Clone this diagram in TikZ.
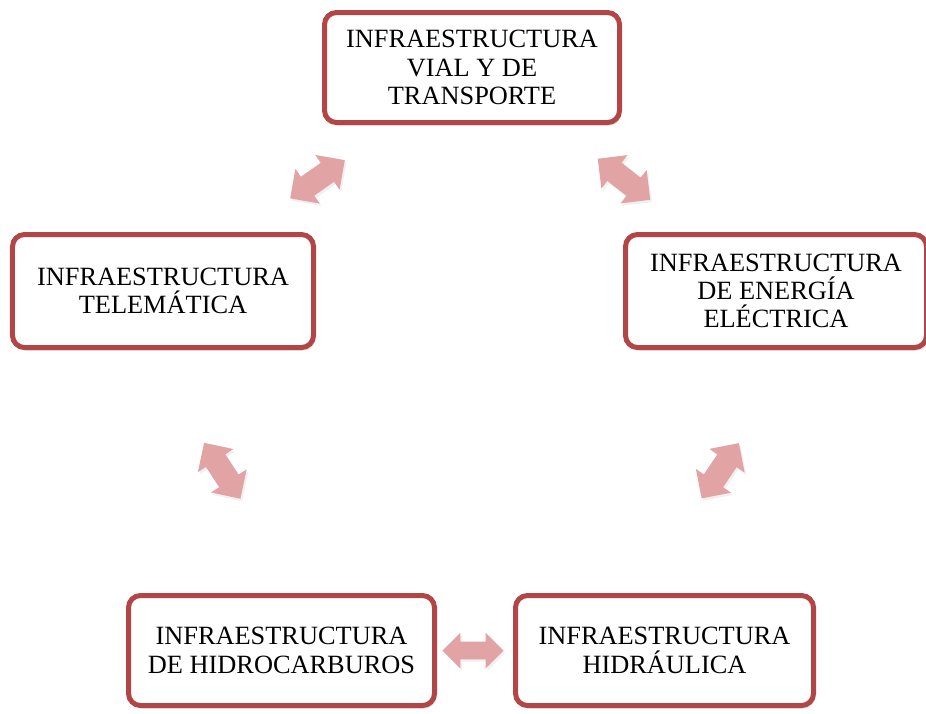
\documentclass[tikz,border=0pt]{standalone}
\usepackage{fontspec}
\setmainfont{Liberation Serif}
\usepackage{tikz}
\usetikzlibrary{calc,shapes.arrows,shadows}
\definecolor{BordeRojo}{RGB}{178,70,70}
\definecolor{FlechaRosa}{RGB}{225,163,164}

\begin{document}
\begin{tikzpicture}[x=0.3mm,y=-0.3mm,
  caja/.style={draw=BordeRojo,line width=1.5mm,rounded corners=3.6mm,
    fill=white,align=center,inner sep=0pt,
    font=\fontsize{22.5}{24.2}\selectfont,
    drop shadow={shadow xshift=0.6mm,shadow yshift=-0.9mm,opacity=0.25}},
  flecha/.style={double arrow,fill=FlechaRosa,draw=none,inner xsep=0pt,
    inner ysep=3.4mm,minimum height=20mm,double arrow head extend=2.9mm,
    drop shadow={shadow xshift=0.5mm,shadow yshift=-0.7mm,opacity=0.12}}]
  \useasboundingbox (0,0) rectangle (926,713);
  % cajas
  \node[caja,minimum width=88.5mm,minimum height=33mm] (vial) at (472,67.5)
    {INFRAESTRUCTURA\\VIAL Y DE\\TRANSPORTE};
  \node[caja,minimum width=90.3mm,minimum height=33.9mm] (tele) at (163,291)
    {INFRAESTRUCTURA\\TELEMÁTICA};
  \node[caja,minimum width=90.3mm,minimum height=33.9mm] (energia) at (776,291)
    {INFRAESTRUCTURA\\DE ENERGÍA\\ELÉCTRICA};
  \node[caja,minimum width=91.8mm,minimum height=33mm] (hidrocarb) at (281.5,650.5)
    {INFRAESTRUCTURA\\DE HIDROCARBUROS};
  \node[caja,minimum width=89.4mm,minimum height=33mm] (hidraulica) at (664.5,650.5)
    {INFRAESTRUCTURA\\HIDRÁULICA};
  % flechas dobles
  \node[flecha,rotate=35] (f-vt) at ($(vial)!0.5!(tele)$) {};
  \node[flecha,rotate=-38] (f-ve) at ($(vial)!0.5!(energia)$) {};
  \node[flecha,rotate=-57] (f-th) at ($(tele)!0.5!(hidrocarb)$) {};
  \node[flecha,rotate=56] (f-eh) at ($(energia)!0.5!(hidraulica)$) {};
  \node[flecha,minimum height=18.3mm,inner ysep=2.6mm,
    double arrow head extend=2.7mm] (f-hh) at ($(hidrocarb)!0.5!(hidraulica)$) {};
\end{tikzpicture}
\end{document}
